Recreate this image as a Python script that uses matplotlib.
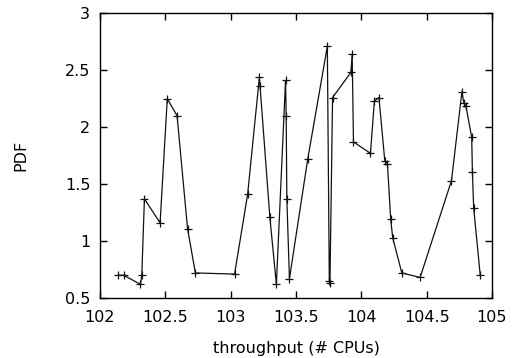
import matplotlib
matplotlib.use("Agg")
import matplotlib.pyplot as plt

throughput = [102.14, 102.18, 102.31, 102.32, 102.34, 102.46, 102.515, 102.59, 102.67, 102.73,
              103.03, 103.13, 103.22, 103.225, 103.30, 103.35, 103.42, 103.425, 103.43, 103.45,
              103.59, 103.74, 103.755, 103.76, 103.78, 103.92, 103.93, 103.94, 104.07, 104.10,
              104.135, 104.18, 104.20, 104.225, 104.24, 104.31, 104.45, 104.69, 104.77, 104.785,
              104.80, 104.845, 104.85, 104.86, 104.91]
pdf = [0.70, 0.70, 0.62, 0.70, 1.37, 1.16, 2.25, 2.10, 1.11, 0.72,
       0.71, 1.41, 2.44, 2.36, 1.21, 0.62, 2.41, 2.10, 1.37, 0.67,
       1.72, 2.71, 0.65, 0.63, 2.26, 2.48, 2.64, 1.87, 1.77, 2.23,
       2.26, 1.70, 1.68, 1.19, 1.03, 0.72, 0.68, 1.53, 2.31, 2.21,
       2.19, 1.91, 1.61, 1.29, 0.70]

xticks = [102, 102.5, 103, 103.5, 104, 104.5, 105]
xticklabels = ["102", "102.5", "103", "103.5", "104", "104.5", "105"]
yticks = [0.5, 1, 1.5, 2, 2.5, 3]
yticklabels = ["0.5", "1", "1.5", "2", "2.5", "3"]

fig = plt.figure(figsize=(5.17, 3.58), dpi=100)
ax = fig.add_axes([0.1934, 0.1676, 0.7582, 0.7954])
ax.plot(throughput, pdf, color="#111111", linewidth=0.9, marker="+", markersize=6,
        markeredgewidth=0.9)
ax.set_xlim(102, 105)
ax.set_ylim(0.5, 3)
ax.set_xticks(xticks)
ax.set_xticklabels(xticklabels)
ax.set_yticks(yticks)
ax.set_yticklabels(yticklabels)
ax.tick_params(direction="in", top=True, right=True, length=5, width=1,
               labelsize=11.5)
ax.tick_params(axis="x", pad=8.5)
ax.tick_params(axis="y", pad=7)
for s in ax.spines.values():
    s.set_linewidth(1.0)
ax.set_xlabel("throughput (# CPUs)", fontsize=11.5, labelpad=12)
ax.set_ylabel("PDF", fontsize=11.5, labelpad=26)
fig.savefig("out.png", dpi=100)
